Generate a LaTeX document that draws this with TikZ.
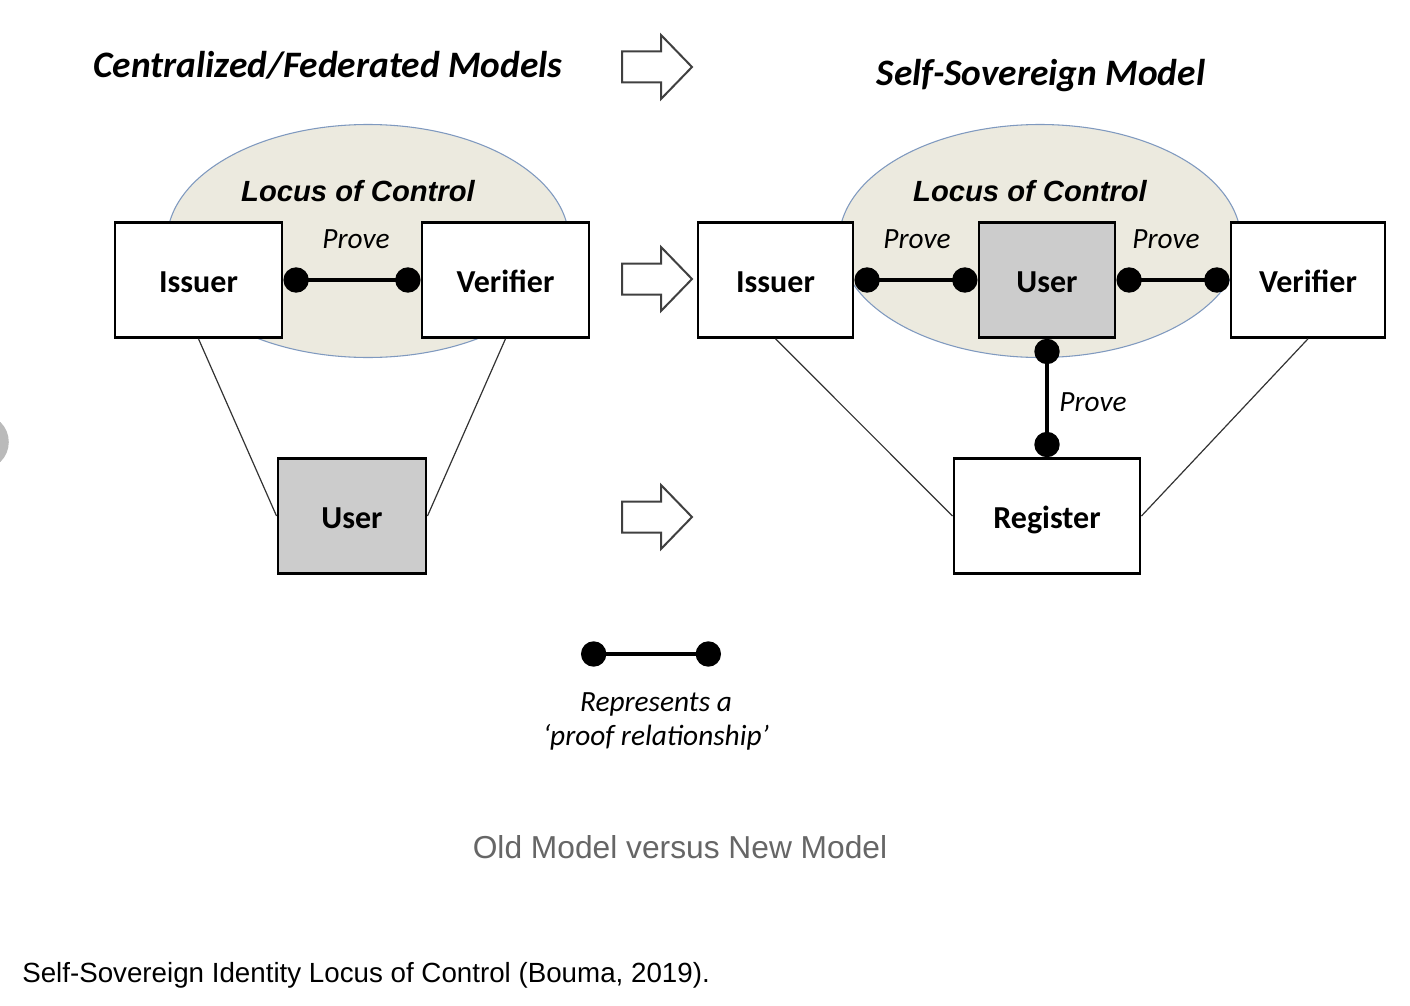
\documentclass[tikz,border=0pt]{standalone}
\usepackage{fontspec}
\setmainfont{Carlito}
\newfontfamily\capfont{Liberation Sans}
\usepackage{xcolor}
\usetikzlibrary{shapes.geometric, positioning, arrows.meta}

\definecolor{locusfill}{HTML}{ECEADF}
\definecolor{locusline}{HTML}{7F99BF}
\definecolor{usergray}{HTML}{CCCCCC}
\definecolor{capgray}{HTML}{666666}

\tikzset{
  party/.style={draw, line width=2.2pt, fill=white, minimum height=86pt,
    inner sep=0pt, text height=18pt, text depth=0pt,
    font=\fontsize{24}{28}\selectfont\bfseries},
  locus/.style={ellipse, draw=locusline, line width=0.8pt, fill=locusfill,
    minimum width=301.5pt, minimum height=174.75pt},
  proof/.style={line width=3pt, {Circle[length=19pt]}-{Circle[length=19pt]}},
  link/.style={line width=0.9pt, draw=black!80},
  provelabel/.style={font=\fontsize{22}{26}\selectfont\itshape, anchor=base, inner sep=0pt},
  locuslabel/.style={font=\capfont\fontsize{21.9}{26}\selectfont\bfseries\itshape, anchor=base, inner sep=0pt},
  heading/.style={font=\fontsize{28}{32}\selectfont\bfseries\itshape, anchor=base, inner sep=0pt},
  shiftarrow/.style={draw=black!75, line width=1.5pt, line join=miter},
}

\begin{document}
\begin{tikzpicture}[x=0.75pt, y=-0.75pt]
  \useasboundingbox (0,0) rectangle (1410,1006);

  % loci of control
  \node[locus] (locL) at (368,241) {};
  \node[locus] (locR) at (1040,241) {};

  % headings
  \node[heading] (titleL) at (328,78) {Centralized/Federated Models};
  \node[heading] (titleR) at (1041,85) {Self-Sovereign Model};
  \node[locuslabel] (locusL) at (358,201) {Locus of Control};
  \node[locuslabel] (locusR) at (1030,201) {Locus of Control};

  % old model
  \node[party, minimum width=125.25pt] (issuerL) at (198.5,280) {Issuer};
  \node[party, minimum width=125.25pt] (verifierL) at (505.5,280) {Verifier};
  \node[party, minimum width=111pt, fill=usergray] (userL) at (352,516) {User};

  \draw[proof] (issuerL) -- (verifierL);
  \node[provelabel] (proveL) at (356,248) {Prove};
  \draw[link] (issuerL.south) -- (userL.west);
  \draw[link] (verifierL.south) -- (userL.east);

  % new model
  \node[party, minimum width=116.25pt] (issuerR) at (775.5,280) {Issuer};
  \node[party, minimum width=102pt, fill=usergray] (userR) at (1047,280) {User};
  \node[party, minimum width=115.5pt] (verifierR) at (1308,280) {Verifier};
  \node[party, minimum width=139.5pt] (register) at (1047,516) {Register};

  \draw[proof] (issuerR) -- (userR);
  \draw[proof] (userR) -- (verifierR);
  \draw[proof] (userR) -- (register);
  \node[provelabel] (proveA) at (917,248) {Prove};
  \node[provelabel] (proveB) at (1166,248) {Prove};
  \node[provelabel] (proveC) at (1093,411) {Prove};
  \draw[link] (issuerR.south) -- (register.west);
  \draw[link] (verifierR.south) -- (register.east);

  % arrows from old to new
  \foreach \y in {67,279,517}
    \draw[shiftarrow] (622,\y-15.5) -- (661,\y-15.5) -- (661,\y-32) -- (692,\y)
      -- (661,\y+32) -- (661,\y+15.5) -- (622,\y+15.5) -- cycle;

  % legend
  \coordinate (legA) at (581,654);
  \coordinate (legB) at (721,654);
  \draw[proof] (legA) -- (legB);
  \node[provelabel] (legend1) at (656,711) {Represents a};
  \node[provelabel] (legend2) at (656,745) {‘proof relationship’};

  % captions
  \node[anchor=base, inner sep=0pt, text=capgray, font=\capfont\fontsize{23.8}{28}\selectfont]
    (capA) at (680,858) {Old Model versus New Model};
  \node[anchor=base west, inner sep=0pt, font=\capfont\fontsize{20.8}{25}\selectfont]
    (capB) at (22,982) {Self-Sovereign Identity Locus of Control (Bouma, 2019).};

  % page mark at the left edge
  \node[circle, fill=black!27, minimum size=41.7pt, inner sep=0pt] (edge) at (-19,442) {};
\end{tikzpicture}
\end{document}
